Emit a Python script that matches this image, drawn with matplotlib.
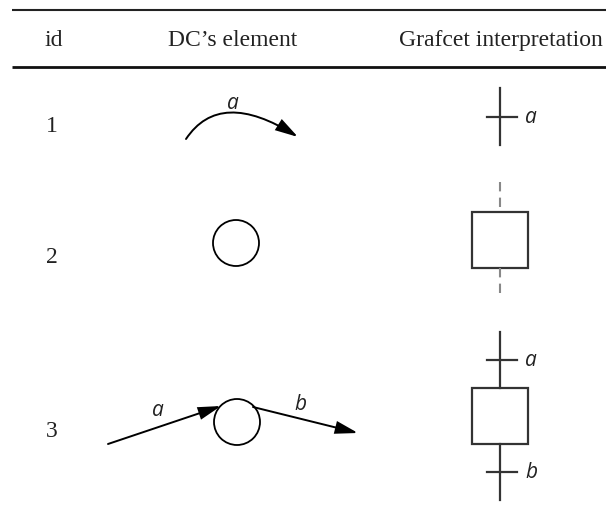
import matplotlib
matplotlib.use("Agg")
import matplotlib.pyplot as plt
from matplotlib.patches import FancyArrowPatch, Circle, Rectangle
from matplotlib.path import Path

# table content
headers = ["id", "DC\u2019s element", "Grafcet interpretation"]
header_x = [54, 233, 501]
row_ids = ["1", "2", "3"]
row_baselines = [132, 263, 437]
arc_label = "a"
in_label = "a"
out_label = "b"

SERIF = "Liberation Serif"
SANS = ["Open Sans", "DejaVu Sans"]
DARK = "#333333"

fig = plt.figure(figsize=(6.06, 5.17), dpi=100)
ax = fig.add_axes([0, 0, 1, 1])
ax.set_xlim(0, 606)
ax.set_ylim(517, 0)
ax.axis("off")

# rules
ax.plot([12, 606], [10, 10], color="#222222", lw=1.5, solid_capstyle="butt")
ax.plot([12, 606], [67, 67], color="#111111", lw=2.0, solid_capstyle="butt")

for x, h in zip(header_x, headers):
    ax.text(x, 46, h, family=SERIF, fontsize=17, ha="center", va="baseline", color="#222222")

for rid, yb in zip(row_ids, row_baselines):
    ax.text(52, yb, rid, family=SERIF, fontsize=17, ha="center", va="baseline", color="#222222")


def arrow(path, ax):
    p = FancyArrowPatch(path=path, arrowstyle="-|>,head_length=1.35,head_width=0.38",
                        mutation_scale=10, color="black", lw=1.4,
                        shrinkA=0, shrinkB=0, joinstyle="miter")
    ax.add_patch(p)


def label(x, y, s):
    ax.text(x, y, s, family=SANS, style="italic", fontsize=15, ha="center", va="baseline", color="#222222")


# row 1: arc transition
arc = Path([(186, 139), (220, 88), (298, 137)], [Path.MOVETO, Path.CURVE3, Path.CURVE3])
arrow(arc, ax)
label(233, 109, arc_label)

# row 1 grafcet: transition
ax.plot([500, 500], [88, 145], color=DARK, lw=1.6)
ax.plot([487, 517], [117, 117], color=DARK, lw=1.6)
label(531, 123, arc_label)

# row 2: place
ax.add_patch(Circle((236, 243), 23, fill=False, ec="black", lw=1.3))
ax.add_patch(Rectangle((472, 212), 56, 56, fill=False, ec=DARK, lw=1.6))
ax.plot([500, 500], [182, 212], color="#888888", lw=1.5, dashes=(4.5, 3))
ax.plot([500, 500], [268, 296], color="#888888", lw=1.5, dashes=(4.5, 3))

# row 3: arc in, place, arc out
arrow(Path([(108, 444), (221, 406)], [Path.MOVETO, Path.LINETO]), ax)
ax.add_patch(Circle((237, 422), 23, fill=False, ec="black", lw=1.3))
arrow(Path([(253, 407), (358, 433)], [Path.MOVETO, Path.LINETO]), ax)
label(158, 416, in_label)
label(300, 410, out_label)

# row 3 grafcet
ax.plot([500, 500], [332, 388], color=DARK, lw=1.6)
ax.plot([487, 517], [360, 360], color=DARK, lw=1.6)
ax.add_patch(Rectangle((472, 388), 56, 56, fill=False, ec=DARK, lw=1.6))
ax.plot([500, 500], [444, 500], color=DARK, lw=1.6)
ax.plot([487, 517], [472, 472], color=DARK, lw=1.6)
label(531, 366, in_label)
label(531, 478, out_label)

fig.savefig("out.png", dpi=100)
